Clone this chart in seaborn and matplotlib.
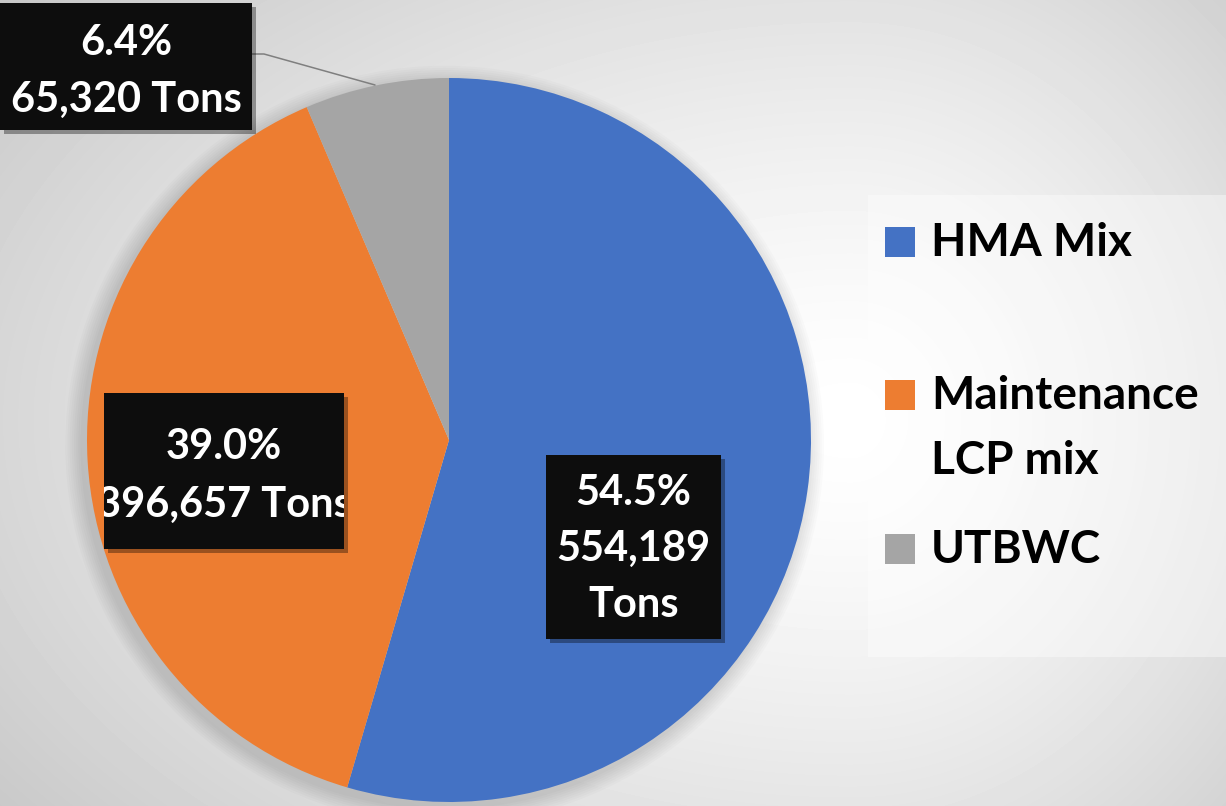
import numpy as np
import matplotlib
matplotlib.use("Agg")
import matplotlib.pyplot as plt
import matplotlib.patheffects as pe
from matplotlib.patches import Rectangle, Circle
from matplotlib.transforms import Bbox, TransformedBbox
import seaborn as sns

# data
categories = ["HMA Mix", "Maintenance LCP mix", "UTBWC"]
legend_labels = ["HMA Mix", "Maintenance\nLCP mix", "UTBWC"]
tons = [554189, 396657, 65320]
colors = sns.color_palette(["#4472C4", "#ED7D31", "#A5A5A5"])

sns.set_theme(style="white")
plt.rcParams["font.family"] = ["Lato", "DejaVu Sans"]

W, H = 1226, 806
fig = plt.figure(figsize=(W / 100, H / 100), dpi=100)

# soft grey background gradient
bg = fig.add_axes([0, 0, 1, 1])
yy, xx = np.mgrid[0:H, 0:W]
sx = np.where(xx > 850, 520, 900)
r = np.sqrt(((xx - 850) / sx) ** 2 + ((yy - 420) / 560) ** 2)
shade = 1 - 0.17 * np.clip(r, 0, 1.2) ** 1.4
bg.imshow(shade, cmap="gray", vmin=0, vmax=1, extent=(0, W, H, 0),
          aspect="auto", interpolation="bilinear")
bg.axis("off")

# pie, centre and radius in pixels
CX, CY, R = 449, 440, 362
ax = fig.add_axes([0, 0, 1, 1])
ax.set_facecolor("none")
for k in range(8):
    ax.add_patch(Circle((-0.012, -0.014), 1 + 0.006 * (k + 1), color="black",
                        alpha=0.014, lw=0, zorder=0))
wedges, _ = ax.pie(tons, colors=colors, startangle=90, counterclock=False,
                   radius=1, wedgeprops=dict(linewidth=0))
ax.set_xlim(-CX / R, (W - CX) / R)
ax.set_ylim(-(H - CY) / R, CY / R)
ax.set_aspect("auto")
ax.axis("off")

# overlay in pixel coordinates for labels and legend
ov = fig.add_axes([0, 0, 1, 1])
ov.set_xlim(0, W)
ov.set_ylim(H, 0)
ov.set_facecolor("none")
ov.axis("off")

shares = np.array(tons) / sum(tons) * 100
label_lines = [
    [f"{shares[0]:.1f}%", f"{tons[0]:,}", "Tons"],
    [f"{shares[1]:.1f}%", f"{tons[1]:,} Tons"],
    [f"{shares[2]:.1f}%", f"{tons[2]:,} Tons"],
]
boxes = [(546, 455, 721, 639), (104, 393, 344, 549), (0, 3, 252, 130)]
baselines = [[505, 561, 617], [459, 517], [55, 112]]

# leader line for the small slice
ov.plot([252, 264, 375], [54, 54, 85], color="#7f7f7f", lw=1.1, zorder=2)

for lines, (x0, y0, x1, y1), bls in zip(label_lines, boxes, baselines):
    rect = Rectangle((x0, y0), x1 - x0, y1 - y0, facecolor="#0d0d0d", lw=0, zorder=3,
                     path_effects=[pe.SimplePatchShadow(offset=(3, -3), shadow_rgbFace="black", alpha=0.35),
                                   pe.Normal()])
    ov.add_patch(rect)
    clip = TransformedBbox(Bbox.from_extents(x0, y0, x1, y1), ov.transData)
    for txt, bl in zip(lines, bls):
        t = ov.text((x0 + x1) / 2, bl, txt, color="white", fontsize=30, fontweight="bold",
                    ha="center", va="baseline", zorder=4)
        t.set_clip_box(clip)
        t.set_clip_on(True)

# legend panel
ov.add_patch(Rectangle((868, 195), W - 868, 462, facecolor="white", alpha=0.4, lw=0, zorder=1))
marker_tops = [227, 380, 534]
for lab, col, top in zip(legend_labels, colors, marker_tops):
    ov.add_patch(Rectangle((885, top), 30, 30, facecolor=col, lw=0, zorder=3))
    for i, part in enumerate(lab.split("\n")):
        ov.text(931, top + 29 + i * 65, part, color="black", fontsize=33, fontweight="bold",
                ha="left", va="baseline", zorder=4)

fig.savefig("out.png", dpi=100)
